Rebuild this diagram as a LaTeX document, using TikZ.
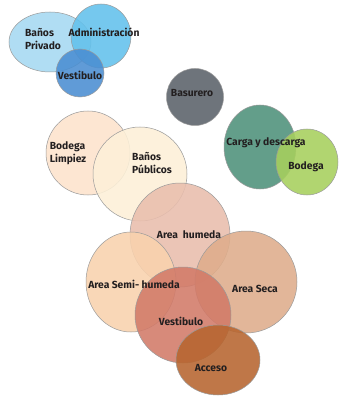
\documentclass[tikz,border=0pt]{standalone}
\usepackage{fontspec}
\setmainfont{Fira Sans}
\usetikzlibrary{shapes.geometric,backgrounds}
\definecolor{texte}{HTML}{231F20}
\definecolor{contour}{HTML}{9A9A9A}
\definecolor{bleuclair}{HTML}{A6D9F2}
\definecolor{bleumoyen}{HTML}{63C1EC}
\definecolor{bleufonce}{HTML}{4A8ED2}
\definecolor{gris}{HTML}{5B6169}
\definecolor{vertfonce}{HTML}{4E917A}
\definecolor{vertclair}{HTML}{A7D05D}
\definecolor{peche}{HTML}{FDE3CC}
\definecolor{creme}{HTML}{FDF0D8}
\definecolor{rosebrun}{HTML}{E9BEAD}
\definecolor{abricot}{HTML}{F9D2AE}
\definecolor{caramel}{HTML}{DFAD8B}
\definecolor{terre}{HTML}{D27A68}
\definecolor{rouille}{HTML}{B7652F}

\begin{document}
\begin{tikzpicture}[%
    x=1pt, y=-1pt,%
    show background rectangle,%
    tight background,%
    background rectangle/.style={fill=white}%
  ]
%
% Styles
%
\tikzset{zone/.style={ellipse, draw=contour, line width=0.5pt, fill opacity=0.88, inner sep=0pt}};%
\tikzset{rond/.style={zone, minimum width=2*#1, minimum height=2*#1}};%
\tikzset{ovale/.style args={#1 et #2}{zone, minimum width=2*#1, minimum height=2*#2}};%
\tikzset{etiq/.style={font=\bfseries\fontsize{10.3}{13}\selectfont, text=texte, align=left, inner sep=0pt}};%

\useasboundingbox (0,0) rectangle (338,398);%

%
% Upper group
%
\node[ovale=41pt et 30pt, fill=bleuclair] (banospriv) at (50,42) {};%
\node[ovale=30pt et 32pt, fill=bleumoyen] (admin) at (101,36) {};%
\node[rond=24pt, fill=bleufonce] (vesthaut) at (80,73) {};%

\node[rond=28.5pt, fill=gris] (basurero) at (195,97) {};%

\node[ovale=36pt et 42pt, fill=vertfonce] (carga) at (260,147) {};%
\node[ovale=31pt et 33pt, fill=vertclair] (bodega) at (307,162) {};%

%
% Lower group
%
\node[rond=42pt, fill=peche] (limpiez) at (88,153) {};%
\node[rond=47pt, fill=creme] (publicos) at (140,174) {};%
\node[ovale=50pt et 52pt, fill=rosebrun] (humeda) at (180,235) {};%
\node[ovale=45pt et 50pt, fill=abricot] (semihumeda) at (131,282) {};%
\node[ovale=51pt et 51pt, fill=caramel] (seca) at (246,282) {};%
\node[ovale=48pt et 48pt, fill=terre] (vestbas) at (183,315) {};%
\node[ovale=42pt et 35pt, fill=rouille] (acceso) at (218,360) {};%

%
% Labels
%
\node[etiq] (t-banospriv) at (43,39) {Baños\\Privado};%
\node[etiq] (t-admin) at (104,32) {Administración};%
\node[etiq] (t-vesthaut) at (80,75) {Vestibulo};%
\node[etiq] (t-basurero) at (192,93) {Basurero};%
\node[etiq] (t-carga) at (266,143) {Carga y descarga};%
\node[etiq] (t-bodega) at (306,167) {Bodega};%
\node[etiq] (t-limpiez) at (68,153) {Bodega\\Limpiez};%
\node[etiq] (t-publicos) at (152,163) {Baños\\Públicos};%
\node[etiq] (t-humeda) at (189,235) {Area\ \ humeda};%
\node[etiq] (t-semihumeda) at (134,284) {Area Semi- humeda};%
\node[etiq] (t-seca) at (255,289) {Area Seca};%
\node[etiq] (t-vestbas) at (181,321) {Vestibulo};%
\node[etiq] (t-acceso) at (211,368) {Acceso};%
\end{tikzpicture}
\end{document}
